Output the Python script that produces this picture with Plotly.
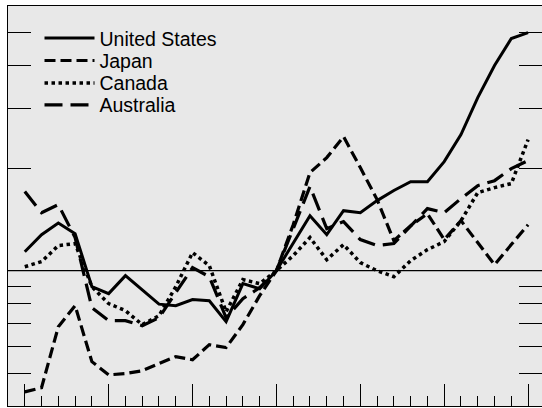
import plotly.graph_objects as go

years = list(range(1970, 2001))

united_states = [113.7, 127.6, 138.0, 128.5, 89.7, 85.6, 96.7, 87.9, 79.7, 78.9,
                 82.2, 81.6, 70.8, 91.6, 88.5, 100.0, 120.9, 145.1, 127.6, 150.1,
                 148.1, 160.7, 172.0, 182.7, 182.7, 209.2, 251.2, 322.8, 400.9, 481.3, 501.2]
japan = [44.0, 45.3, 68.4, 78.9, 54.0, 49.4, 49.8, 50.8, 53.3, 55.9,
         54.7, 60.6, 59.4, 69.4, 84.4, 100.0, 136.5, 194.2, 215.0, 247.8,
         200.9, 161.8, 122.5, 135.6, 147.1, 123.4, 140.3, 120.9, 104.1, 119.3, 136.5]
canada = [102.7, 106.3, 118.5, 120.1, 89.7, 80.0, 76.3, 69.4, 73.7, 89.7,
          113.0, 103.4, 75.7, 94.1, 91.6, 100.0, 110.7, 125.1, 107.7, 119.3,
          105.6, 100.0, 96.0, 107.0, 115.3, 121.7, 140.3, 169.6, 175.5, 180.3, 242.8]
australia = [170.8, 148.1, 156.4, 125.1, 77.8, 71.3, 71.3, 68.9, 72.7, 86.2,
             102.1, 96.0, 72.7, 82.7, 89.1, 100.0, 132.9, 176.7, 132.9, 139.4,
             123.4, 118.5, 120.1, 135.6, 152.2, 148.1, 162.9, 177.8, 183.9, 199.5, 210.7]

series_names = ["United States", "Japan", "Canada", "Australia"]
series_values = [united_states, japan, canada, australia]
series_dash = ["solid", "11px,5px", "3.5px,3.5px", "18px,8px"]
series_width = [3, 3.2, 3.5, 3.2]
legend_ids = ["legend", "legend2", "legend3", "legend4"]
legend_rows = [0.919, 0.863, 0.807, 0.752]

y_tickvals = [50, 60, 70, 80, 90, 100, 200, 300, 400, 500, 600]
base_value = 100

fig = go.Figure()
for name, vals, dash, w, lg in zip(series_names, series_values, series_dash, series_width, legend_ids):
    fig.add_trace(go.Scatter(x=years, y=vals, mode="lines", name=name, legend=lg,
                             line=dict(color="black", width=w, dash=dash)))

fig.add_shape(type="line", xref="paper", x0=0, x1=1, yref="y", y0=base_value, y1=base_value,
              line=dict(color="black", width=1.2), layer="below")

legend_style = dict(x=0.059, xanchor="left", yanchor="middle",
                    bgcolor="rgba(0,0,0,0)", borderwidth=0,
                    font=dict(size=19.5), itemwidth=50)
layout_legends = {lg: dict(legend_style, y=row) for lg, row in zip(legend_ids, legend_rows)}

fig.update_layout(
    width=542, height=408,
    margin=dict(l=8, r=0, t=6, b=2),
    paper_bgcolor="white",
    plot_bgcolor="#e8e8e8",
    font=dict(family="Liberation Sans, Arial, sans-serif", size=18, color="black"),
    showlegend=True,
    xaxis=dict(range=[1969, 2000.83], showgrid=False, zeroline=False,
               showline=True, linecolor="black", linewidth=1.3, mirror=True,
               ticks="inside", ticklen=22, tickwidth=1.3, tickcolor="black",
               tick0=1970, dtick=5, showticklabels=False,
               minor=dict(ticks="inside", ticklen=10, tickwidth=1.3, tickcolor="black",
                          dtick=1, tick0=1970, showgrid=False)),
    yaxis=dict(type="log", range=[1.60206, 2.77815], showgrid=False, zeroline=False,
               showline=True, linecolor="black", linewidth=1.3, mirror="ticks",
               ticks="inside", ticklen=23, tickwidth=1.3, tickcolor="black",
               tickvals=y_tickvals, showticklabels=False),
    **layout_legends,
)

fig.write_html("out.html", config={"displayModeBar": False},
               post_script="document.body.style.margin='0px';")
